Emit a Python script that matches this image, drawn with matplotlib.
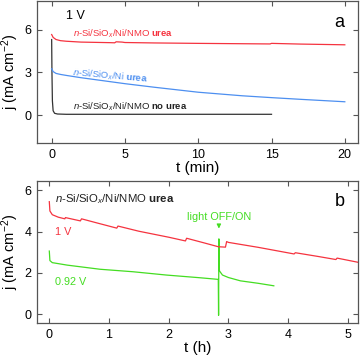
import matplotlib
matplotlib.use("Agg")
from matplotlib import pyplot as plt

plt.rcParams['font.family'] = ['Liberation Sans', 'DejaVu Sans']
plt.rcParams['mathtext.fontset'] = 'custom'
plt.rcParams['mathtext.rm'] = 'Liberation Sans'
plt.rcParams['mathtext.it'] = 'Liberation Sans:italic'
plt.rcParams['mathtext.bf'] = 'Liberation Sans:bold'

# panel a: j (mA cm-2) vs t (min) at 1 V
t_red_a = [0, 0.1, 0.3, 0.6, 1, 2, 3, 4, 4.3, 4.4, 4.8, 5, 7, 10, 14.9, 15.0, 17, 20]
j_red_a = [5.65, 5.45, 5.3, 5.22, 5.18, 5.12, 5.1, 5.08, 5.07, 5.14, 5.12, 5.09, 5.06, 5.03, 4.99, 5.03, 4.98, 4.93]
t_blue_a = [0, 0.1, 0.3, 0.6, 1, 2, 3, 5, 7, 10, 13, 15, 17, 20]
j_blue_a = [3.25, 3.05, 2.92, 2.85, 2.78, 2.62, 2.48, 2.2, 1.95, 1.6, 1.35, 1.22, 1.1, 0.93]
t_black_a = [0, 0.02, 0.05, 0.1, 0.2, 0.4, 1, 15]
j_black_a = [5.3, 3.0, 1.0, 0.3, 0.12, 0.07, 0.05, 0.05]

# panel b: j (mA cm-2) vs t (h)
t_red_b = [0, 0.01, 0.05, 0.15, 0.26, 0.27, 0.52, 0.54, 0.8, 1.13, 1.15, 1.5, 2.0,
           2.28, 2.3, 2.6, 2.83, 2.95, 2.97, 3.0, 3.5, 4.1, 4.12, 4.5, 4.8, 4.82, 5.2]
j_red_b = [5.45, 5.0, 4.82, 4.7, 4.62, 4.68, 4.52, 4.62, 4.42, 4.17, 4.27, 4.02, 3.73,
           3.55, 3.68, 3.45, 3.27, 3.25, 3.52, 3.48, 3.24, 2.92, 2.98, 2.8, 2.65, 2.72, 2.5]
t_green_b = [0, 0.01, 0.05, 0.3, 0.85, 1.4, 1.96, 2.52, 2.83, 2.835, 2.84, 2.845,
             2.85, 2.9, 3.0, 3.2, 3.5, 3.76]
j_green_b = [3.06, 2.6, 2.5, 2.38, 2.18, 2.06, 1.9, 1.77, 1.69, -0.05, 3.65, 2.3,
             2.1, 1.9, 1.78, 1.62, 1.5, 1.38]

RED = '#f5333f'
BLUE = '#4d8ff0'
GREEN = '#44dd22'
SPINE = '#555555'

fig = plt.figure(figsize=(3.61, 3.59), dpi=100)
ax1 = fig.add_axes([0.1025, 0.6003, 0.8892, 0.3967])
ax2 = fig.add_axes([0.1025, 0.1003, 0.8892, 0.3955])

for ax in (ax1, ax2):
    for s in ax.spines.values():
        s.set_color(SPINE)
        s.set_linewidth(0.9)
    ax.tick_params(direction='in', length=3.5, width=0.8, color=SPINE,
                   top=True, right=True, labelsize=9, pad=4)

# panel a
ax1.plot(t_black_a, j_black_a, color='#333333', lw=0.9)
ax1.plot(t_blue_a, j_blue_a, color=BLUE, lw=0.9)
ax1.plot(t_red_a, j_red_a, color=RED, lw=0.9)
ax1.set_xlim(-1, 20.9)
ax1.set_ylim(-2, 8)
ax1.set_xticks([0, 5, 10, 15, 20])
ax1.set_yticks([0, 3, 6])
ax1.set_xlabel('t (min)', fontsize=11, labelpad=0)
ax1.set_ylabel('j (mA cm$^{-2}$)', fontsize=10.5)
ax1.yaxis.set_label_coords(-0.05, 0.5)
ax1.text(1.0, 6.95, '1 V', fontsize=9, va='center')
ax1.text(19.65, 6.5, 'a', fontsize=13, ha='center', va='center')
ax1.text(1.43, 5.7, r'$\it{n}$-Si/SiO$_{\it{x}}$/Ni/NMO $\bf{urea}$', color=RED,
         fontsize=6.8, va='center')
ax1.text(1.43, 3.0, r'$\it{n}$-Si/SiO$_{\it{x}}$/Ni $\bf{urea}$', color=BLUE,
         fontsize=6.8, va='center', rotation=-5, rotation_mode='anchor')
ax1.text(1.43, 0.6, r'$\it{n}$-Si/SiO$_{\it{x}}$/Ni/NMO $\bf{no\ urea}$', color='#222222',
         fontsize=6.8, va='center')

# panel b
ax2.plot(t_green_b, j_green_b, color=GREEN, lw=0.9)
ax2.plot(t_red_b, j_red_b, color=RED, lw=0.9)
ax2.set_xlim(-0.206, 5.17)
ax2.set_ylim(-0.42, 6.45)
ax2.set_xticks([0, 1, 2, 3, 4, 5])
ax2.set_yticks([0, 2, 4, 6])
ax2.set_xlabel('t (h)', fontsize=11, labelpad=0)
ax2.set_ylabel('j (mA cm$^{-2}$)', fontsize=10.5)
ax2.yaxis.set_label_coords(-0.05, 0.5)
ax2.text(0.1, 5.58, r'$\it{n}$-Si/SiO$_{\it{x}}$/Ni/NMO $\bf{urea}$', color='#222222',
         fontsize=8.2, va='center')
ax2.text(4.87, 5.45, 'b', fontsize=13, ha='center', va='center')
ax2.text(0.1, 3.98, '1 V', color=RED, fontsize=7.8, va='center')
ax2.text(0.1, 1.56, '0.92 V', color=GREEN, fontsize=7.8, va='center')
ax2.annotate('light OFF/ON', xy=(2.84, 4.15), xytext=(2.84, 4.72), color=GREEN,
             fontsize=7.8, ha='center', va='center',
             arrowprops=dict(arrowstyle='-|>', color=GREEN, lw=0.8,
                             mutation_scale=6, shrinkA=4, shrinkB=0))

fig.savefig('out.png', dpi=100)
